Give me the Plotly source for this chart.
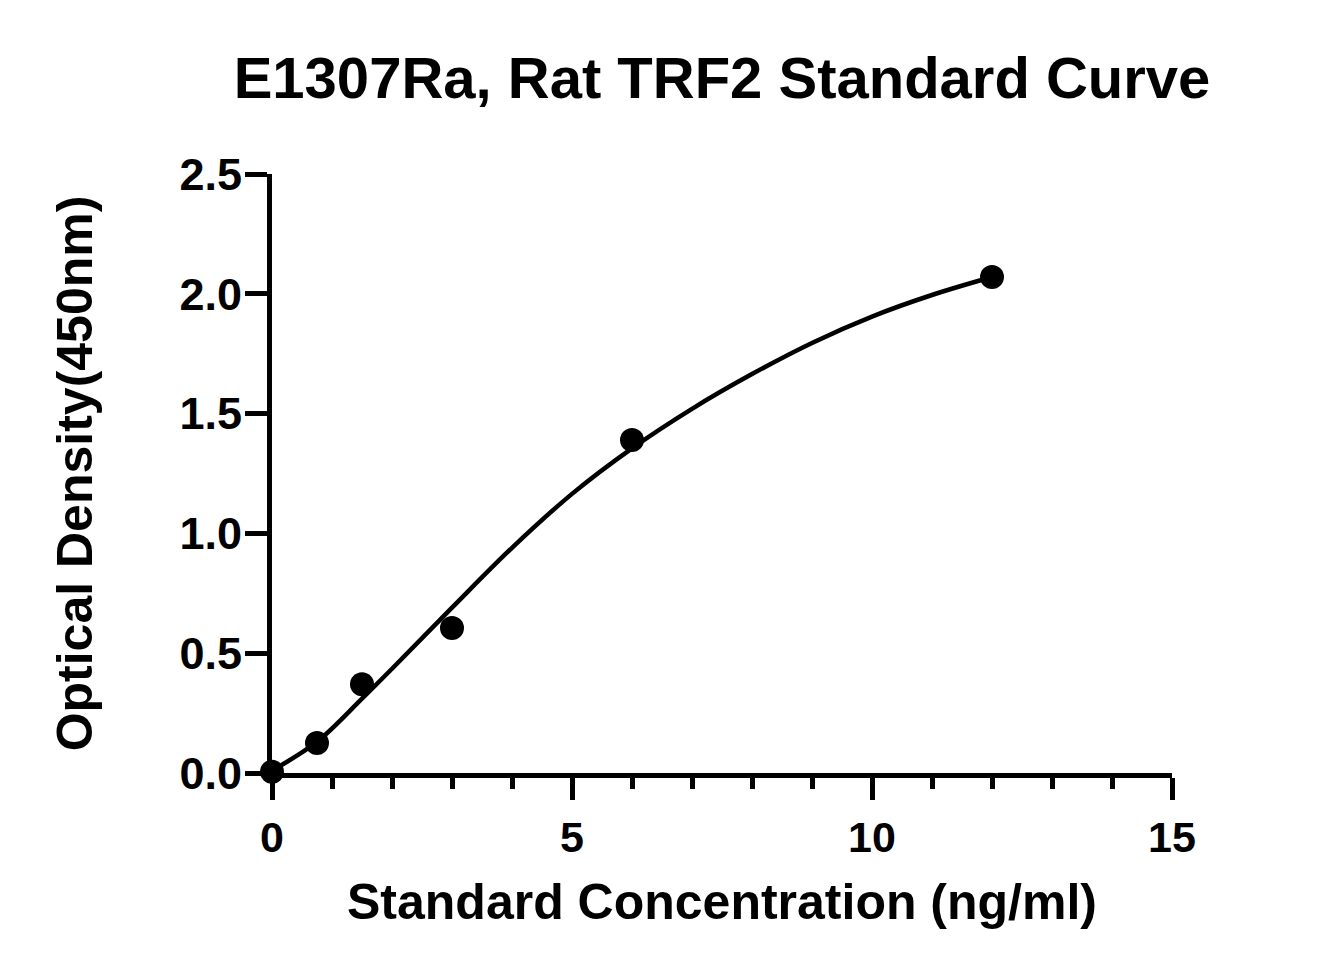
import plotly.graph_objects as go

# standard points
conc = [0, 0.75, 1.5, 3, 6, 12]
od = [0.005, 0.125, 0.37, 0.605, 1.39, 2.07]

# fitted curve, points
curve_x = [0, 0.75, 1.5, 2, 3, 4, 5, 6, 7, 8, 9, 10, 11, 12]
curve_y = [0.01, 0.13, 0.31, 0.435, 0.69, 0.94, 1.165, 1.355, 1.52, 1.665, 1.795, 1.905, 1.995, 2.07]

x_ticks = [0, 5, 10, 15]
y_ticks = [0.0, 0.5, 1.0, 1.5, 2.0, 2.5]
y_tick_text = ["0.0", "0.5", "1.0", "1.5", "2.0", "2.5"]

FONT = "Arial, Liberation Sans, sans-serif"

fig = go.Figure()
fig.add_trace(go.Scatter(
    x=curve_x, y=curve_y, mode="lines",
    line=dict(color="black", width=4.5, shape="spline", smoothing=1.0),
    cliponaxis=False, hoverinfo="skip", showlegend=False,
))
fig.add_trace(go.Scatter(
    x=conc, y=od, mode="markers",
    marker=dict(color="black", size=24),
    cliponaxis=False, showlegend=False,
))

axis_common = dict(
    showgrid=False, zeroline=False,
    showline=True, linecolor="black", linewidth=5,
    ticks="outside", ticklen=22, tickwidth=5, tickcolor="black",
)

# page body has an 8px margin, so the figure is a bit smaller than the window
fig.update_layout(
    width=1316, height=959,
    margin=dict(l=264, r=152, t=166, b=194),
    paper_bgcolor="white", plot_bgcolor="white",
    title=dict(
        text="E1307Ra, Rat TRF2 Standard Curve",
        font=dict(family=FONT, size=58, color="black", weight="bold"),
        x=0.5, xref="paper", xanchor="center",
        y=1 - 70 / 959, yref="container", yanchor="middle",
    ),
    xaxis=dict(
        **axis_common,
        range=[0, 15], tickvals=x_ticks,
        tickfont=dict(family=FONT, size=43, color="black", weight="bold"),
        minor=dict(dtick=1, tick0=0, ticks="outside", ticklen=11, tickwidth=5, tickcolor="black"),
        title=dict(text="Standard Concentration (ng/ml)", standoff=26,
                   font=dict(family=FONT, size=50, color="black", weight="bold")),
    ),
    yaxis=dict(
        **axis_common,
        range=[0, 2.5], tickvals=y_ticks, ticktext=y_tick_text,
        tickfont=dict(family=FONT, size=45, color="black", weight="bold"),
        ticklabelstandoff=-6,
        title=dict(text="Optical Density(450nm)", standoff=72,
                   font=dict(family=FONT, size=50, color="black", weight="bold")),
    ),
)

fig.write_html("out.html")
